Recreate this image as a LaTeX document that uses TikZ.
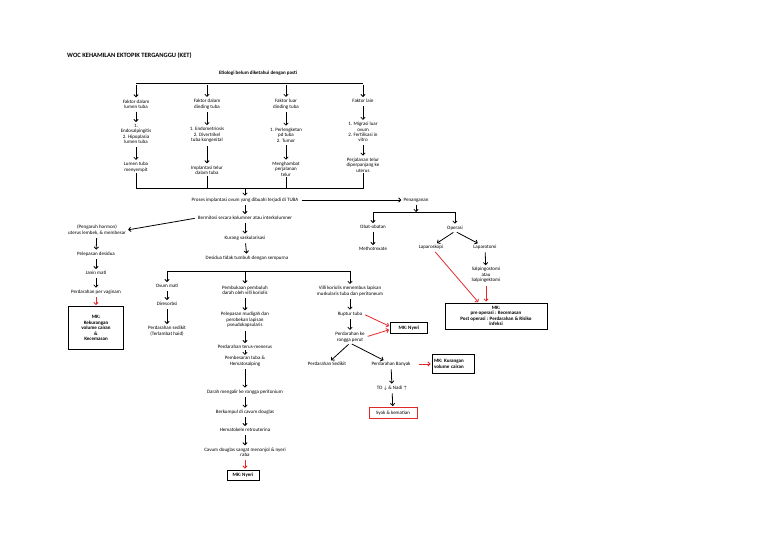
\documentclass[tikz,border=0pt]{standalone}
\usepackage{fontspec}
\setmainfont{Carlito}
\usetikzlibrary{arrows.meta}
\definecolor{merah}{RGB}{225,40,40}

\begin{document}
\begin{tikzpicture}[x=1pt,y=-1pt,
  txt/.style={font=\fontsize{5}{5.4}\selectfont,align=center,inner sep=1pt},
  arr/.style={line width=0.8pt,-{Straight Barb[length=2.2pt,width=4.4pt]},shorten <=2pt,shorten >=1pt},
  rarr/.style={arr,merah},
  garis/.style={line width=0.8pt},
  mkbox/.style={draw,line width=1pt,font=\fontsize{5}{5.4}\selectfont\bfseries,align=center,inner sep=1pt}
]
\useasboundingbox (0,0) rectangle (768,543);

% judul
\node[anchor=west,font=\fontsize{6.5}{7}\selectfont\bfseries,inner sep=0pt] (judul) at (67,56) {WOC KEHAMILAN EKTOPIK TERGANGGU (KET)};
\node[txt,font=\fontsize{5}{5.4}\selectfont\bfseries] (etio) at (258,73) {Etiologi belum diketahui dengan pasti};

% empat faktor
\coordinate (t1) at (136,83);
\coordinate (t2) at (207,83);
\coordinate (t3) at (286,83);
\coordinate (t4) at (363,83);
\draw[garis] (t1) -- (t4);

\node[txt] (fa1) at (136,104) {Faktor dalam\\lumen tuba};
\node[txt] (fa2) at (136,134) {1.\\Endosalpingitis\\2. Hipoplasia\\lumen tuba};
\node[txt] (fa3) at (136,167) {Lumen tuba\\menyempit};
\node[txt] (fb1) at (207,104) {Faktor dalam\\dinding tuba};
\node[txt] (fb2) at (207,135) {1. Endometriosis\\2. Divertrikel\\tuba kongenital};
\node[txt] (fb3) at (207,170) {Implantasi telur\\dalam tuba};
\node[txt] (fc1) at (286,104) {Faktor luar\\dinding tuba};
\node[txt] (fc2) at (286,135) {1. Perlengketan\\pd tuba\\2. Tumor};
\node[txt] (fc3) at (286,169) {Menghambat\\perjalanan\\telur};
\node[txt] (fd1) at (363,101) {Faktor lain};
\node[txt] (fd2) at (363,132) {1. Migrasi luar\\ovum\\2. Fertilisasi in\\vitro};
\node[txt] (fd3) at (363,165) {Perjalanan telur\\diperpanjang ke\\uterus};

\draw[arr] (t1) -- (fa1);
\draw[arr] (t2) -- (fb1);
\draw[arr] (t3) -- (fc1);
\draw[arr] (t4) -- (fd1);
\draw[arr] (fa1) -- (fa2);
\draw[arr] (fa2) -- (fa3);
\draw[arr] (fb1) -- (fb2);
\draw[arr] (fb2) -- (fb3);
\draw[arr] (fc1) -- (fc2);
\draw[arr] (fc2) -- (fc3);
\draw[arr] (fd1) -- (fd2);
\draw[arr] (fd2) -- (fd3);

\coordinate (u1) at (136,188);
\coordinate (u0) at (245,188);
\coordinate (u4) at (363,188);
\draw[garis] (fa3.south) -- (u1) -- (u4) -- (fd3.south);
\draw[garis] (fb3.south) -- (fb3 |- u1);
\draw[garis] (fc3.south) -- (fc3 |- u1);

% alur tengah
\node[txt] (pr) at (245,200) {Proses implantasi ovum yang dibuahi terjadi di TUBA};
\node[txt] (pen) at (416,200) {Penanganan};
\node[txt] (bm) at (245,218) {Bermitosi secara kolumner atau interkolumner};
\node[txt] (kv) at (245,238) {Kurang vaskularisasi};
\node[txt] (ds) at (247,258) {Desidua tidak tumbuh dengan sempurna};
\draw[arr,shorten <=0pt] (u0) -- (pr);
\draw[arr] (pr) -- (pen);
\draw[arr] (pr) -- (bm);
\draw[arr] (bm) -- (kv);
\draw[arr] (kv) -- (ds);

% kiri
\node[txt] (ph) at (97,230) {(Pengaruh hormon)\\uterus lembek, \& membesar};
\node[txt] (pd) at (96,254) {Pelepasan desidua};
\node[txt] (jm) at (96,273) {Janin mati};
\node[txt] (pv) at (96,292) {Perdarahan per vaginam};
\node[mkbox,minimum width=55pt,minimum height=43pt] (mk1) at (96,328) {MK:\\Kekurangan\\volume cairan\\\&\\Kecemasan};
\draw[arr] (bm.west) -- (ph.east);
\draw[arr] (ph) -- (pd);
\draw[arr] (pd) -- (jm);
\draw[arr] (jm) -- (pv);
\draw[rarr] (pv) -- (mk1);

% cabang desidua
\coordinate (v1) at (167,271);
\coordinate (v2) at (245,271);
\coordinate (v3) at (350,271);
\draw[garis] (v1) -- (v3);

\node[txt] (om) at (167,286) {Ovum mati};
\node[txt] (dr) at (167,304) {Diresorbsi};
\node[txt] (psd) at (167,331) {Perdarahan sedikit\\(Terlambat haid)};
\draw[arr,shorten <=0pt] (v1) -- (om);
\draw[arr] (om) -- (dr);
\draw[arr] (dr) -- (psd);

\node[txt] (pp) at (245,290) {Pembukaan pembuluh\\darah oleh villi koriolis};
\node[txt] (pm) at (245,320) {Pelepasan mudigah dan\\perobekan lapisan\\pseudokapsularis};
\node[txt] (pt) at (245,347) {Perdarahan terus-menerus};
\node[txt] (pb) at (245,361) {Pembesaran tuba \&\\Hematosalping};
\node[txt] (dm) at (245,392) {Darah mengalir ke rongga peritonium};
\node[txt] (bk) at (245,412) {Berkumpul di cavum douglas};
\node[txt] (hr) at (245,430) {Hematokele retrouterina};
\node[txt] (cd) at (245,452) {Cavum douglas sangat menonjol \& nyeri\\raba};
\node[mkbox,minimum width=32pt,minimum height=10pt] (nb) at (243,475) {MK: Nyeri};
\draw[arr,shorten <=0pt] (v2) -- (pp);
\draw[arr] (pp) -- (pm);
\draw[arr] (pm) -- (pt);
\draw[arr,shorten <=0pt,shorten >=0pt] (pt) -- (pb);
\draw[arr] (pb) -- (dm);
\draw[arr] (dm) -- (bk);
\draw[arr] (bk) -- (hr);
\draw[arr] (hr) -- (cd);
\draw[rarr] (cd) -- (cd |- nb.north);

\node[txt] (vk) at (350,291) {Villi koriolis menembus lapisan\\muskularis tuba dan peritoneum};
\node[txt] (rt) at (350,314) {Ruptur tuba};
\node[txt] (pk) at (350,337) {Perdarahan ke\\rongga perut};
\node[mkbox,minimum width=37pt,minimum height=11pt] (nk) at (409,328) {MK: Nyeri};
\node[txt] (ps) at (327,364) {Perdarahan Sedikit};
\node[txt] (pbn) at (391,364) {Perdarahan Banyak};
\node[mkbox,align=left,minimum width=42pt,minimum height=19pt,text width=38pt] (mk2) at (453,364) {MK: Kurangan\\volume cairan};
\node[txt] (td) at (392,388) {TD $\downarrow$ \& Nadi $\uparrow$};
\node[draw=merah,line width=0.8pt,txt,minimum width=48pt,minimum height=11pt] (sy) at (393,413) {Syok \& kematian};
\draw[arr,shorten <=0pt] (v3) -- (vk);
\draw[arr] (vk) -- (rt);
\draw[arr] (rt) -- (pk);
\draw[rarr] (rt.east) -- ([yshift=1.5pt]nk.west);
\draw[rarr] (pk.east) -- ([yshift=-1.5pt]nk.west);
\draw[arr] (pk.south) -- (ps);
\draw[arr] (pk.south) -- (pbn);
\draw[rarr,shorten <=7pt] (pbn.east) -- (mk2.west);
\draw[arr] (pbn) -- (td);
\draw[arr] (td) -- (sy);

% penanganan
\coordinate (pj) at (416,212);
\coordinate (q1) at (373,212);
\coordinate (q2) at (455,212);
\draw[arr,shorten >=0pt] (pen) -- (pj);
\draw[garis] (q1) -- (q2);
\node[txt] (ob) at (373,227) {Obat-obatan};
\node[txt] (mt) at (373,249) {Methotrexate};
\node[txt] (op) at (455,228) {Operasi};
\node[txt] (lk) at (431,247) {Laparoskopi};
\node[txt] (lt) at (485,247) {Laparotomi};
\node[txt] (sg) at (486,275) {Salpingostomi\\atau\\Salpingektomi};
\node[mkbox,minimum width=102pt,minimum height=26pt] (mk3) at (496,316) {MK:\\pre operasi : Kecemasan\\Post operasi : Perdarahan \& Risiko\\infeksi};
\coordinate (m3a) at (479,303);
\draw[arr,shorten <=0pt] (q1) -- (ob);
\draw[arr,shorten <=0pt] (q2) -- (op);
\draw[arr] (ob) -- (mt);
\draw[arr] (op.south) -- (lk);
\draw[arr] (op.south) -- (lt);
\draw[arr] (lt) -- (sg);
\draw[rarr] (lk) -- (m3a);
\draw[rarr] (sg) -- (sg |- mk3.north);
\end{tikzpicture}
\end{document}
